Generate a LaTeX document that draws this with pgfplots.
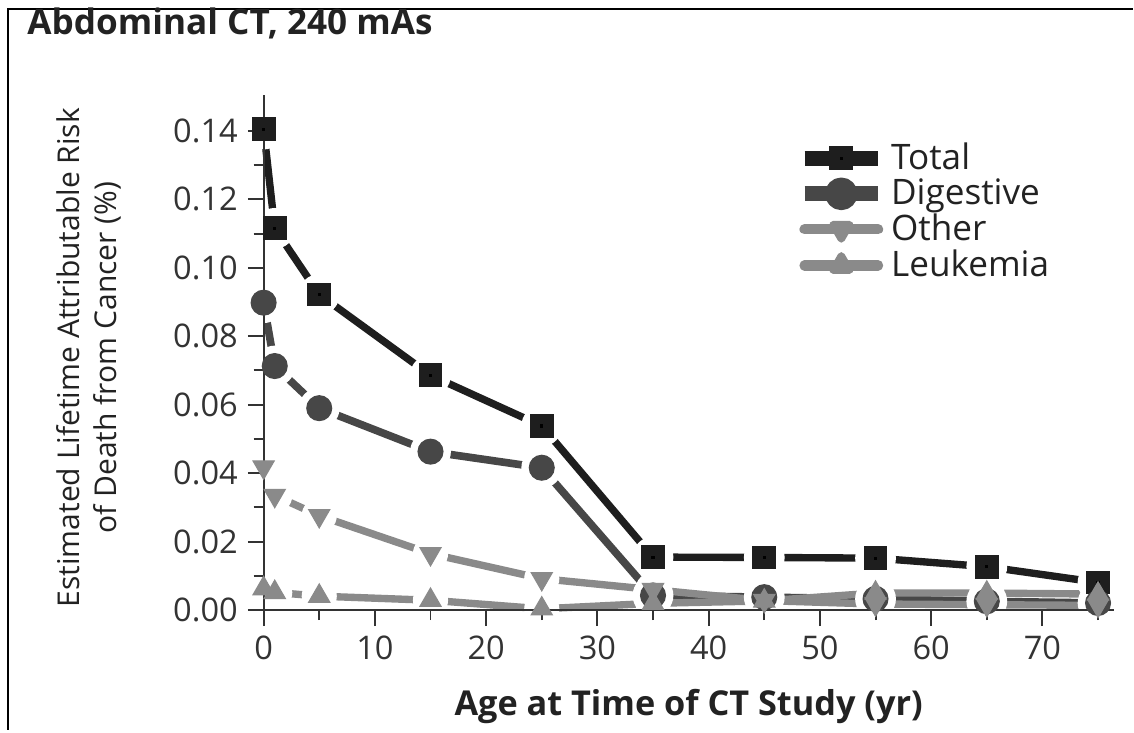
\documentclass[border=0pt]{standalone}
\usepackage{fontspec}
\setmainfont{Open Sans}
\usepackage{pgfplots}
\pgfplotsset{compat=1.18}
\usepackage{pgfplotstable}

\definecolor{ctot}{HTML}{1E1E1E}
\definecolor{cdig}{HTML}{474747}
\definecolor{coth}{HTML}{8A8A8A}
\definecolor{cleu}{HTML}{8A8A8A}
\definecolor{axgray}{HTML}{333333}
\definecolor{txt}{HTML}{222222}

% filled square with a small black dot in the middle
\pgfdeclareplotmark{sqdot}{%
  \pgfpathrectangle{\pgfpoint{-\pgfplotmarksize}{-\pgfplotmarksize}}{\pgfpoint{2\pgfplotmarksize}{2\pgfplotmarksize}}%
  \pgfusepathqfill
  \begin{pgfscope}
    \pgfsetfillcolor{black}%
    \pgfpathrectangle{\pgfpoint{-0.55pt}{-0.55pt}}{\pgfpoint{1.1pt}{1.1pt}}%
    \pgfusepathqfill
  \end{pgfscope}}

% age (yr), risk (%)
\pgfplotstableread{
x   tot     dig     oth     leu
0   0.1405  0.0898  0.0418  0.0063
1   0.1115  0.0713  0.0335  0.0052
5   0.0922  0.0590  0.0276  0.0041
15  0.0686  0.0463  0.0165  0.0029
25  0.0538  0.0416  0.0092  0.0004
35  0.0155  0.0043  0.0060  0.0020
45  0.0154  0.0038  0.0028  0.0027
55  0.0152  0.0033  0.0018  0.0050
65  0.0127  0.0026  0.0016  0.0050
75  0.0081  0.0021  0.0014  0.0047
}\datatab

\begin{document}
\begin{tikzpicture}
\path (0pt,0pt) rectangle (400pt,257.8pt);
\draw[black, line width=0.7pt] (2.9pt,0pt) -- (2.9pt,255pt);
\draw[black, line width=1pt] (2.6pt,254.6pt) -- (400pt,254.6pt);
\node[anchor=base west, inner sep=0pt, text=txt, font=\fontsize{12.4}{15}\selectfont\bfseries]
  at (9.5pt,245.5pt) {Abdominal CT, 240 mAs};

\begin{axis}[
  set layers,
  at={(93.1pt,42.3pt)}, anchor=south west,
  scale only axis, width=300.2pt, height=182pt,
  xmin=0, xmax=76.4, ymin=0, ymax=0.1505,
  axis x line=bottom, axis y line=left,
  axis line style={-, axgray, line width=0.7pt},
  xtick={0,10,...,70}, minor xtick={5,15,...,75},
  ytick={0,0.02,0.04,0.06,0.08,0.10,0.12,0.14},
  minor ytick={0.01,0.03,0.05,0.07,0.09,0.11,0.13},
  tick align=outside,
  major tick length=5.6pt, minor tick length=3.5pt,
  tick style={axgray, line width=0.7pt},
  tick label style={font=\fontsize{11.5}{13}\selectfont, text=axgray},
  yticklabel style={/pgf/number format/.cd, fixed, fixed zerofill, precision=2, assume math mode=true},
  xticklabel style={/pgf/number format/assume math mode=true},
  xlabel={Age at Time of CT Study (yr)},
  ylabel={Estimated Lifetime Attributable Risk\\of Death from Cancer (\%)},
  xlabel style={at={(axis description cs:0.5,-0.186)}, anchor=center, text=txt,
    font=\fontsize{12.1}{15}\selectfont\bfseries},
  ylabel style={at={(axis description cs:-0.206,0.49)}, anchor=center, align=center, text=txt,
    font=\fontsize{10.6}{13}\selectfont},
  legend style={at={(0.627,0.919)}, anchor=north west, draw=none, fill=none,
    font=\fontsize{12.4}{13}\selectfont, text=txt, row sep=-2.2pt,
    inner sep=0pt},
  legend cell align=left,
  clip=false,
]
% lines
\addplot[on layer=axis background, ctot, line width=2.6pt, line join=round, no marks,
  legend image code/.code={
    \draw[ctot, line width=5.2pt] (0pt,0pt) -- (26pt,0pt);
    \draw[ctot, mark=sqdot, mark size=4.2pt, mark options={fill=ctot}] plot coordinates {(13pt,0pt)};}]
  table[x=x, y=tot] {\datatab};
\addlegendentry{Total}
\addplot[on layer=axis background, cdig, line width=2.7pt, line join=round, no marks,
  legend image code/.code={
    \draw[cdig, line width=5.2pt] (0pt,0pt) -- (26pt,0pt);
    \fill[cdig] (13pt,0pt) circle (4.4pt);}]
  table[x=x, y=dig] {\datatab};
\addlegendentry{Digestive}
\addplot[on layer=axis background, coth, line width=2.6pt, line cap=round, line join=round, no marks,
  legend image code/.code={
    \draw[coth, line width=3.6pt] (0pt,0pt) -- (26pt,0pt);
    \draw[coth, mark=triangle*, mark size=3.4pt, mark options={rotate=180, fill=coth}] plot coordinates {(13pt,0pt)};}]
  table[x=x, y=oth] {\datatab};
\addlegendentry{Other}
\addplot[on layer=axis background, cleu, line width=2.6pt, line cap=round, line join=round, no marks,
  legend image code/.code={
    \draw[cleu, line width=3.6pt] (0pt,0pt) -- (26pt,0pt);
    \draw[cleu, mark=triangle*, mark size=3.4pt, mark options={fill=cleu}] plot coordinates {(13pt,0pt)};}]
  table[x=x, y=leu] {\datatab};
\addlegendentry{Leukemia}

% white gaps round the markers
\addplot[on layer=axis grid, mark layer=axis grid, only marks, mark=*, mark size=7pt, mark options={draw=white, fill=white}, forget plot]
  table[x=x, y=tot] {\datatab};
\addplot[on layer=axis grid, mark layer=axis grid, only marks, mark=*, mark size=7pt, mark options={draw=white, fill=white}, forget plot]
  table[x=x, y=dig] {\datatab};
\addplot[on layer=axis grid, mark layer=axis grid, only marks, mark=*, mark size=6pt, mark options={draw=white, fill=white}, forget plot]
  table[x=x, y=oth] {\datatab};
\addplot[on layer=axis grid, mark layer=axis grid, only marks, mark=*, mark size=6pt, mark options={draw=white, fill=white}, forget plot]
  table[x=x, y=leu] {\datatab};

% markers
\addplot[only marks, mark layer=main, ctot, mark=sqdot, mark size=4.2pt, mark options={fill=ctot}, forget plot]
  table[x=x, y=tot] {\datatab};
\addplot[only marks, mark layer=main, cdig, mark=*, mark size=4.4pt, mark options={fill=cdig, draw=cdig}, forget plot]
  table[x=x, y=dig] {\datatab};
\addplot[only marks, mark layer=main, coth, mark=triangle*, mark size=4.3pt, mark options={rotate=180, fill=coth, draw=coth}, forget plot]
  table[x=x, y=oth] {\datatab};
\addplot[only marks, mark layer=main, cleu, mark=triangle*, mark size=4.3pt, mark options={fill=cleu, draw=cleu}, forget plot]
  table[x=x, y=leu] {\datatab};
\end{axis}
\end{tikzpicture}
\end{document}
